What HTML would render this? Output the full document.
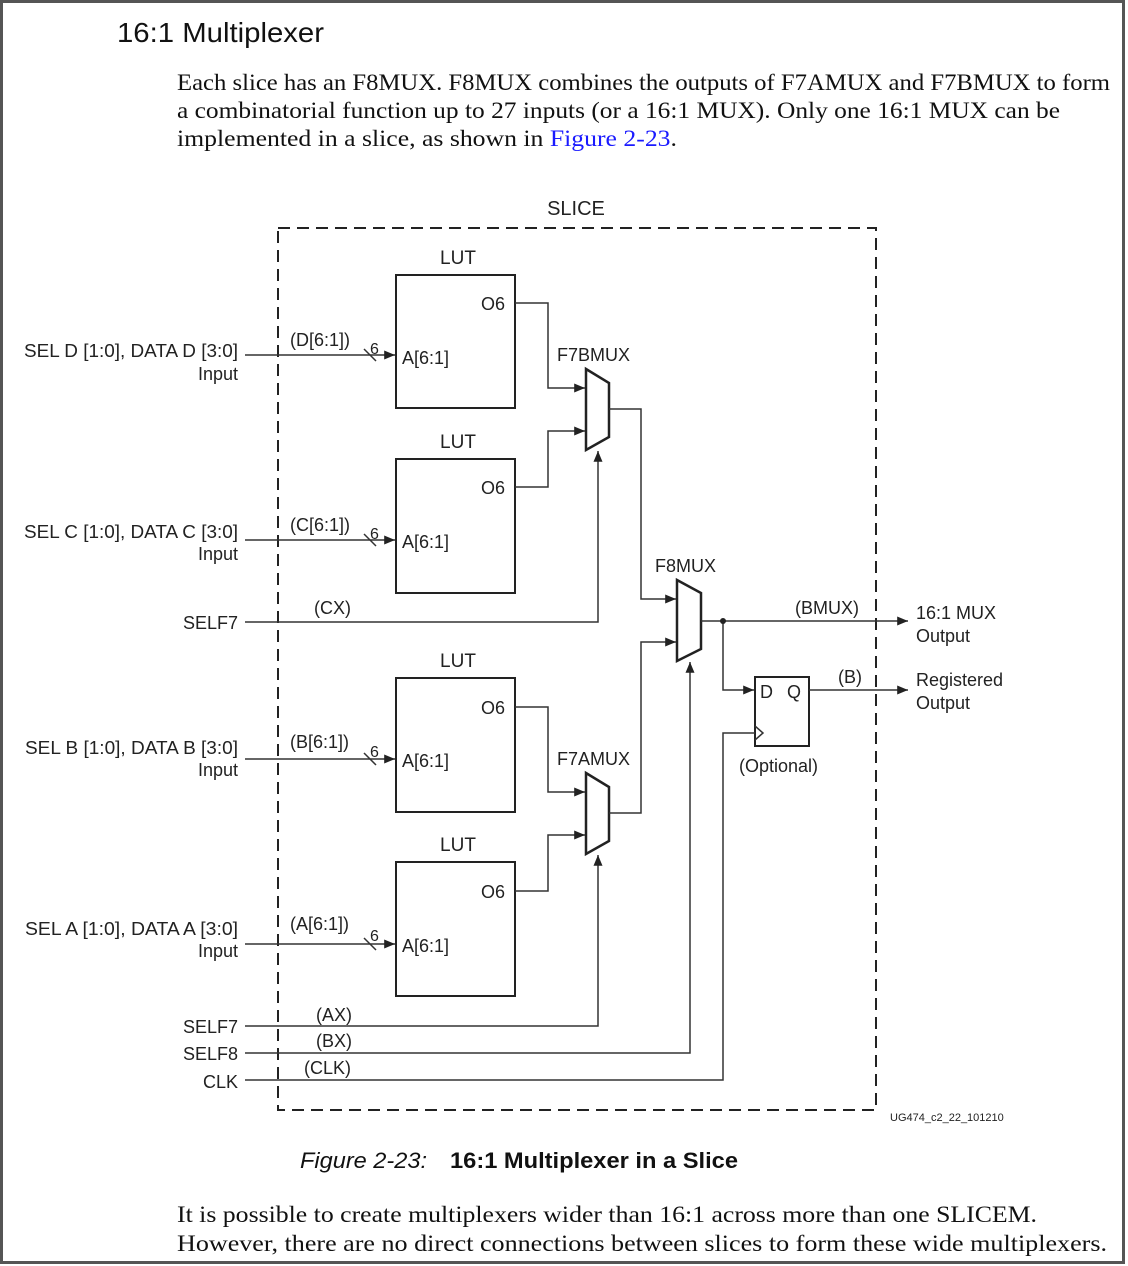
<!DOCTYPE html>
<html><head><meta charset="utf-8"><style>
html,body{margin:0;padding:0;background:#fff}
svg{display:block}
.s{font-family:"Liberation Sans",sans-serif;font-size:18px;fill:#222}
.r{font-family:"Liberation Serif",serif;font-size:23px;fill:#111}
</style></head><body>
<svg width="1128" height="1266" viewBox="0 0 1128 1266" xmlns="http://www.w3.org/2000/svg">
<defs><marker id="a" viewBox="0 0 12 10" refX="12" refY="5" markerWidth="12" markerHeight="9" orient="auto" markerUnits="userSpaceOnUse"><path d="M0,0L12,5L0,10z" fill="#222"/></marker></defs>
<rect x="1.5" y="1.5" width="1122" height="1261" fill="none" stroke="#555" stroke-width="3"/>
<text x="117" y="42" font-family="Liberation Sans,sans-serif" font-size="28" fill="#111" textLength="207" lengthAdjust="spacingAndGlyphs">16:1 Multiplexer</text>
<text class="r" x="177" y="90" textLength="933" lengthAdjust="spacingAndGlyphs">Each slice has an F8MUX. F8MUX combines the outputs of F7AMUX and F7BMUX to form</text>
<text class="r" x="177" y="118" textLength="883" lengthAdjust="spacingAndGlyphs">a combinatorial function up to 27 inputs (or a 16:1 MUX). Only one 16:1 MUX can be</text>
<text class="r" x="177" y="146" textLength="500" lengthAdjust="spacingAndGlyphs">implemented in a slice, as shown in <tspan fill="#1a1aff">Figure 2-23</tspan>.</text>

<g stroke="#222" stroke-width="2" fill="none">
<rect x="278" y="228" width="598" height="882" stroke-dasharray="12,7"/>
<rect x="396" y="275" width="119" height="133"/>
<rect x="396" y="459" width="119" height="134"/>
<rect x="396" y="678" width="119" height="134"/>
<rect x="396" y="862" width="119" height="134"/>
<path d="M586,369L609,383L609,437L586,450Z" stroke-width="2.5"/>
<path d="M586,773L609,787L609,841L586,854Z" stroke-width="2.5"/>
<path d="M677,580L701,593L701,649L677,661Z" stroke-width="2.5"/>
<rect x="755" y="677" width="54" height="69"/>
</g>
<g stroke="#333" stroke-width="1.5" fill="none">
<line x1="245" y1="355" x2="395" y2="355" marker-end="url(#a)"/>
<line x1="245" y1="540" x2="395" y2="540" marker-end="url(#a)"/>
<line x1="245" y1="759" x2="395" y2="759" marker-end="url(#a)"/>
<line x1="245" y1="944" x2="395" y2="944" marker-end="url(#a)"/>
<path d="M364,349l12,12M364,534l12,12M364,753l12,12M364,938l12,12"/>
<path d="M515,303H548V388H585" marker-end="url(#a)"/>
<path d="M515,487H548V431H585" marker-end="url(#a)"/>
<path d="M515,707H548V792H585" marker-end="url(#a)"/>
<path d="M515,891H548V835H585" marker-end="url(#a)"/>
<path d="M245,622H598V451" marker-end="url(#a)"/>
<path d="M245,1026H598V855" marker-end="url(#a)"/>
<path d="M245,1053H690V662" marker-end="url(#a)"/>
<path d="M609,409H641V599H676" marker-end="url(#a)"/>
<path d="M609,813H641V642H676" marker-end="url(#a)"/>
<path d="M701,621H908" marker-end="url(#a)"/>
<path d="M723,621V690H754" marker-end="url(#a)"/>
<path d="M809,690H908" marker-end="url(#a)"/>
<path d="M245,1080H723V733H755"/>
<path d="M755,726L763,733L755,740"/>
</g>
<circle cx="723" cy="621" r="3" fill="#222"/>
<g class="s">
<text x="576" y="215" text-anchor="middle" font-size="20">SLICE</text>
<text x="458" y="264" text-anchor="middle" font-size="19">LUT</text>
<text x="458" y="448" text-anchor="middle" font-size="19">LUT</text>
<text x="458" y="667" text-anchor="middle" font-size="19">LUT</text>
<text x="458" y="851" text-anchor="middle" font-size="19">LUT</text>
<text x="481" y="310">O6</text><text x="481" y="494">O6</text><text x="481" y="714">O6</text><text x="481" y="898">O6</text>
<text x="402" y="364">A[6:1]</text><text x="402" y="548">A[6:1]</text><text x="402" y="767">A[6:1]</text><text x="402" y="952">A[6:1]</text>
<text x="290" y="346">(D[6:1])</text><text x="290" y="531">(C[6:1])</text><text x="290" y="748">(B[6:1])</text><text x="290" y="930">(A[6:1])</text>
<text x="370" y="354" font-size="16">6</text><text x="370" y="539" font-size="16">6</text><text x="370" y="757" font-size="16">6</text><text x="370" y="941" font-size="16">6</text>
<text x="24" y="357" textLength="214" lengthAdjust="spacingAndGlyphs">SEL D [1:0], DATA D [3:0]</text><text x="238" y="380" text-anchor="end">Input</text>
<text x="24" y="538" textLength="214" lengthAdjust="spacingAndGlyphs">SEL C [1:0], DATA C [3:0]</text><text x="238" y="560" text-anchor="end">Input</text>
<text x="25" y="754" textLength="213" lengthAdjust="spacingAndGlyphs">SEL B [1:0], DATA B [3:0]</text><text x="238" y="776" text-anchor="end">Input</text>
<text x="25" y="935" textLength="213" lengthAdjust="spacingAndGlyphs">SEL A [1:0], DATA A [3:0]</text><text x="238" y="957" text-anchor="end">Input</text>
<text x="238" y="629" text-anchor="end">SELF7</text>
<text x="238" y="1033" text-anchor="end">SELF7</text>
<text x="238" y="1060" text-anchor="end">SELF8</text>
<text x="238" y="1088" text-anchor="end">CLK</text>
<text x="314" y="614">(CX)</text><text x="316" y="1021">(AX)</text><text x="316" y="1047">(BX)</text><text x="304" y="1074">(CLK)</text>
<text x="557" y="361">F7BMUX</text><text x="557" y="765">F7AMUX</text><text x="655" y="572">F8MUX</text>
<text x="795" y="614">(BMUX)</text><text x="838" y="683">(B)</text>
<text x="760" y="698">D</text><text x="787" y="698">Q</text>
<text x="739" y="772">(Optional)</text>
<text x="916" y="619">16:1 MUX</text><text x="916" y="642">Output</text>
<text x="916" y="686">Registered</text><text x="916" y="709">Output</text>
<text x="890" y="1121" font-size="11">UG474_c2_22_101210</text>
</g>
<text x="300" y="1168" font-family="Liberation Sans,sans-serif" font-size="22" font-style="italic" fill="#111" textLength="127" lengthAdjust="spacingAndGlyphs">Figure 2-23:</text>
<text x="450" y="1168" font-family="Liberation Sans,sans-serif" font-size="22" font-weight="bold" fill="#111" textLength="288" lengthAdjust="spacingAndGlyphs">16:1 Multiplexer in a Slice</text>
<text class="r" x="177" y="1222" textLength="860" lengthAdjust="spacingAndGlyphs">It is possible to create multiplexers wider than 16:1 across more than one SLICEM.</text>
<text class="r" x="177" y="1251" textLength="930" lengthAdjust="spacingAndGlyphs">However, there are no direct connections between slices to form these wide multiplexers.</text>
</svg>
</body></html>
